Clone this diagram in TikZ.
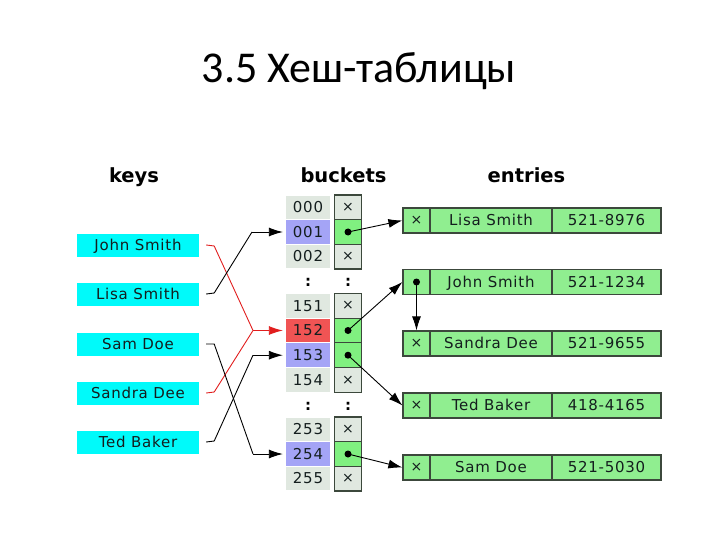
\documentclass[tikz,border=0pt]{standalone}
\usepackage{fontspec}
\setmainfont{DejaVu Sans}
\newfontfamily\titlefont{Carlito}
\newfontfamily\boxfont[LetterSpace=5]{DejaVu Sans}
\usetikzlibrary{arrows.meta}
\definecolor{keycyan}{RGB}{0,250,250}
\definecolor{numgray}{RGB}{224,232,224}
\definecolor{numblue}{RGB}{164,164,246}
\definecolor{numred}{RGB}{240,84,84}
\definecolor{cellgreen}{RGB}{128,240,128}
\definecolor{entrygreen}{RGB}{144,238,144}
\definecolor{edgegray}{RGB}{60,72,60}
\definecolor{redline}{RGB}{225,30,30}
\definecolor{txtcol}{RGB}{20,30,30}
\tikzset{
  txt/.style={font=\boxfont\fontsize{15}{18}\selectfont, text=txtcol, text height=11, text depth=0.5},
  keybox/.style={txt, fill=keycyan, minimum width=122, minimum height=23, inner sep=0},
  numcell/.style={txt, fill=numgray, minimum width=44, minimum height=23.5, inner sep=0},
  bcell/.style={draw=edgegray, line width=1.2, fill=numgray, minimum width=27, minimum height=24.7, inner sep=0, font=\fontsize{14}{16}\selectfont, text=txtcol},
  dcell/.style={bcell, fill=cellgreen},
  ecell/.style={txt, draw=edgegray, line width=1.2, fill=entrygreen, minimum height=25, inner sep=0},
  hdr/.style={font=\fontsize{19.5}{22}\selectfont\bfseries, anchor=base},
  dotmark/.style={circle, fill=black, inner sep=0, minimum size=7},
  conn/.style={line width=0.9, -{Latex[length=14,width=9]}},
  sep/.style={font=\fontsize{15}{18}\selectfont\bfseries}
}
\begin{document}
\begin{tikzpicture}[x=1pt,y=-1pt]
\useasboundingbox (0,0) rectangle (720,540);
% title
\node[anchor=base, font=\titlefont\fontsize{44}{50}\selectfont] (title) at (359,83) {3.5 Хеш-таблицы};
% headers
\node[hdr] (hkeys) at (134,183) {keys};
\node[hdr] (hbuckets) at (343.5,183) {buckets};
\node[hdr] (hentries) at (526.5,183) {entries};
% keys
\node[keybox] (kJ) at (138,245) {John Smith};
\node[keybox] (kL) at (138,294) {Lisa Smith};
\node[keybox] (kSam) at (138,344) {Sam Doe};
\node[keybox] (kSan) at (138,393) {Sandra Dee};
\node[keybox] (kT) at (138,442) {Ted Baker};
% bucket numbers
\node[numcell] (n000) at (308,207.3) {000};
\node[numcell, fill=numblue] (n001) at (308,232) {001};
\node[numcell] (n002) at (308,256.7) {002};
\node[numcell] (n151) at (308,305.8) {151};
\node[numcell, fill=numred] (n152) at (308,330.5) {152};
\node[numcell, fill=numblue] (n153) at (308,355.2) {153};
\node[numcell] (n154) at (308,380) {154};
\node[numcell] (n253) at (308,429.3) {253};
\node[numcell, fill=numblue] (n254) at (308,454) {254};
\node[numcell] (n255) at (308,478.7) {255};
% bucket cells
\node[bcell] (b000) at (348,207.3) {×};
\node[dcell] (b001) at (348,232) {};
\node[bcell] (b002) at (348,256.7) {×};
\node[bcell] (b151) at (348,305.8) {×};
\node[dcell] (b152) at (348,330.5) {};
\node[dcell] (b153) at (348,355.2) {};
\node[bcell] (b154) at (348,380) {×};
\node[bcell] (b253) at (348,429.3) {×};
\node[dcell] (b254) at (348,454) {};
\node[bcell] (b255) at (348,478.7) {×};
\foreach \b in {b001,b152,b153,b254} \node[dotmark] at (\b.center) {};
% separators
\node[sep] (s1a) at (308,282) {:};
\node[sep] (s1b) at (348,282) {:};
\node[sep] (s2a) at (308,406) {:};
\node[sep] (s2b) at (348,406) {:};
% entries
\foreach \n/\y/\name/\phone/\mk in {1/220.5/Lisa Smith/521-8976/x, 2/282/John Smith/521-1234/d, 3/343.5/Sandra Dee/521-9655/x, 4/405.5/Ted Baker/418-4165/x, 5/467.5/Sam Doe/521-5030/x}{
  \node[ecell, minimum width=27, font=\fontsize{14}{16}\selectfont, text height=8, text depth=0] (e\n a) at (416.5,\y) {\if x\mk ×\fi};
  \node[ecell, minimum width=122] (e\n b) at (491,\y) {\name};
  \node[ecell, minimum width=109] (e\n c) at (606.5,\y) {\phone};
}
\node[dotmark] (d2) at (e2a.center) {};
% key -> bucket connectors
\coordinate (c152) at (253,330.5);
\coordinate (c001) at (252,232);
\coordinate (c153) at (253,355.2);
\coordinate (c254) at (253,454);
\draw[redline, line width=0.9] ([xshift=7]kJ.east) -- ++(8,1) -- (c152);
\draw[redline, line width=0.9] ([xshift=7]kSan.east) -- ++(8,-1) -- (c152);
\draw[conn, redline, shorten >=3] (c152) -- (n152.west);
\draw[line width=0.9] ([xshift=7]kL.east) -- ++(8,-1) -- (c001);
\draw[conn, shorten >=3] (c001) -- (n001.west);
\draw[line width=0.9] ([xshift=7]kSam.east) -- ++(8,0) -- (c254);
\draw[conn, shorten >=3] (c254) -- (n254.west);
\draw[line width=0.9] ([xshift=7]kT.east) -- ++(8,-1) -- (c153);
\draw[conn, shorten >=3] (c153) -- (n153.west);
% bucket -> entry connectors
\draw[conn] (b001.center) -- (e1a.west);
\draw[conn] (b152.center) -- (e2a.west);
\draw[conn] (b153.center) -- (e4a.west);
\draw[conn] (b254.center) -- (e5a.west);
\draw[conn] (d2.center) -- (e3a.north);
\end{tikzpicture}
\end{document}
